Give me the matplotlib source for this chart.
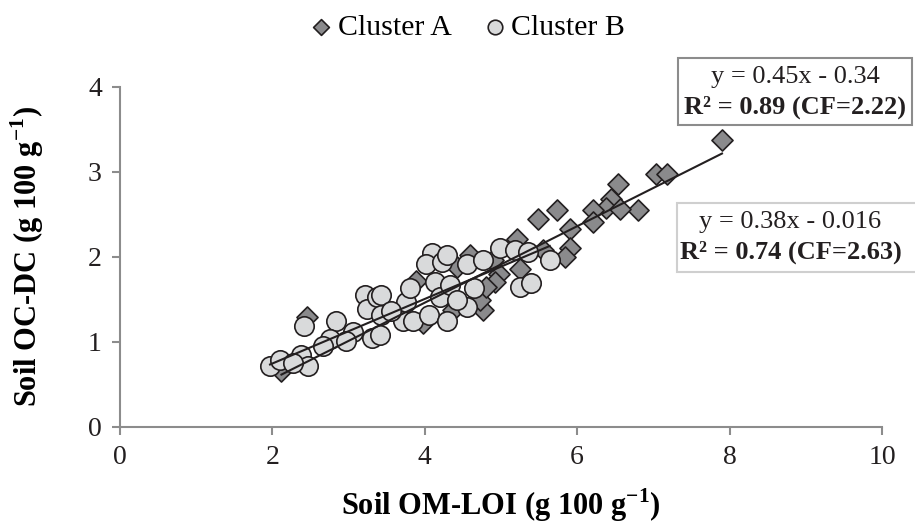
"""
Soil OC-DC vs OM-LOI scatter, two clusters with their fitted lines.
"""
import matplotlib
matplotlib.use("Agg")
import matplotlib.pyplot as plt
import numpy as np
from matplotlib.patches import Rectangle

plt.rcParams['font.family'] = ['Liberation Serif', 'DejaVu Serif']
plt.rcParams['mathtext.fontset'] = 'custom'
plt.rcParams['mathtext.rm'] = 'Liberation Serif'
plt.rcParams['mathtext.bf'] = 'Liberation Serif:bold'

# --- DATA --- #

cluster_a_x = [7.90, 7.03, 7.18, 6.54, 6.45, 6.80, 6.38, 6.56, 6.21, 6.21,
               5.49, 5.73, 5.91, 5.91, 5.84, 5.21, 5.25, 4.97, 4.92, 4.59,
               3.89, 4.77, 4.37, 4.72, 4.42, 4.81, 4.90, 5.55, 4.02, 3.98,
               2.45, 2.12]
cluster_a_y = [3.37, 2.98, 2.98, 2.86, 2.68, 2.55, 2.58, 2.56, 2.55, 2.41,
               2.45, 2.55, 2.33, 2.10, 2.00, 2.21, 1.86, 1.80, 1.70, 2.02,
               1.72, 1.37, 1.37, 1.49, 1.88, 1.65, 1.96, 2.08, 1.29, 1.22,
               1.29, 0.66]

cluster_b_x = [1.97, 2.10, 2.41, 2.37, 2.47, 2.27, 2.84, 2.76, 2.67, 3.06,
               2.97, 3.22, 3.24, 3.31, 3.38, 3.43, 3.43, 3.41, 3.72, 3.85,
               3.76, 3.81, 4.09, 4.02, 4.22, 4.29, 4.13, 4.20, 4.33, 4.05,
               4.29, 4.55, 4.77, 4.64, 4.55, 4.42, 4.99, 5.18, 5.36, 5.64,
               5.25, 5.40, 3.56]
cluster_b_y = [0.71, 0.79, 1.19, 0.85, 0.71, 0.75, 1.24, 1.03, 0.95, 1.11,
               1.01, 1.55, 1.38, 1.05, 1.53, 1.55, 1.31, 1.08, 1.24, 1.24,
               1.47, 1.63, 2.04, 1.92, 1.94, 2.02, 1.70, 1.53, 1.67, 1.31,
               1.25, 1.92, 1.96, 1.63, 1.41, 1.49, 2.10, 2.08, 2.06, 1.96,
               1.65, 1.69, 1.36]

# fitted lines as printed on the chart
fit_a = (0.45, -0.34)
fit_b = (0.38, -0.016)
eq_a = "y = 0.45x - 0.34"
r2_a = "R² = 0.89 (CF=2.22)"
eq_b = "y = 0.38x - 0.016"
r2_b = "R² = 0.74 (CF=2.63)"

# --- PLOT --- #

fig = plt.figure(figsize=(9.15, 5.23), dpi=100)
ax = fig.add_axes([0.131, 0.184, 0.833, 0.650])

edge = '#231f20'
ax.scatter(cluster_a_x, cluster_a_y, marker='D', s=115, facecolor='#8a8a8c',
           edgecolor=edge, linewidth=1.2, zorder=3, label='Cluster A')
ax.scatter(cluster_b_x, cluster_b_y, marker='o', s=195, facecolor='#d9dadb',
           edgecolor=edge, linewidth=1.2, zorder=3, label='Cluster B')

for xs, (m, b) in [(cluster_a_x, fit_a), (cluster_b_x, fit_b)]:
    lx = np.array([min(xs), max(xs)])
    ax.plot(lx, m * lx + b, color=edge, linewidth=1.5, zorder=4)

ax.set_xlim(0, 10)
ax.set_ylim(0, 4)
ax.set_xticks([0, 2, 4, 6, 8, 10])
ax.set_yticks([0, 1, 2, 3, 4])
for side in ['top', 'right']:
    ax.spines[side].set_visible(False)
for side in ['left', 'bottom']:
    ax.spines[side].set_color('#8c8c8c')
    ax.spines[side].set_linewidth(1.5)
ax.tick_params(colors='#8c8c8c', width=1.5, length=6, labelsize=20,
               labelcolor='#231f20')
ax.tick_params(axis='x', pad=7)
ax.tick_params(axis='y', pad=7)

ax.set_xlabel("Soil OM-LOI (g 100 g$^{\\mathbf{-1}}$)", fontsize=22,
              fontweight='bold', labelpad=12)
ax.set_ylabel("Soil OC-DC (g 100 g$^{\\mathbf{-1}}$)", fontsize=22,
              fontweight='bold', labelpad=30)

fig.legend(loc='upper center', bbox_to_anchor=(0.508, 1.025), ncol=2,
           frameon=False, fontsize=21.5, markerscale=0.75, handletextpad=0.0,
           columnspacing=0.9, handlelength=1.1)

# equation boxes
boxes = [((0.741, 0.761, 0.256, 0.128), '#8c8c8c', eq_a, r2_a, 0.869, 0.853, 0.794),
         ((0.740, 0.480, 0.262, 0.132), '#cfcfcf', eq_b, r2_b, 0.864, 0.576, 0.518)]
for (bx, by, bw, bh), ec, eq, r2, tx, ty1, ty2 in boxes:
    fig.patches.append(Rectangle((bx, by), bw, bh, transform=fig.transFigure,
                                 facecolor='white', edgecolor=ec, linewidth=1.5,
                                 zorder=5))
    fig.text(tx, ty1, eq, ha='center', va='center', fontsize=19, color=edge,
             zorder=6)
    fig.text(tx, ty2, r2, ha='center', va='center', fontsize=19,
             fontweight='bold', color=edge, zorder=6)

fig.savefig("out.png", dpi=100)
